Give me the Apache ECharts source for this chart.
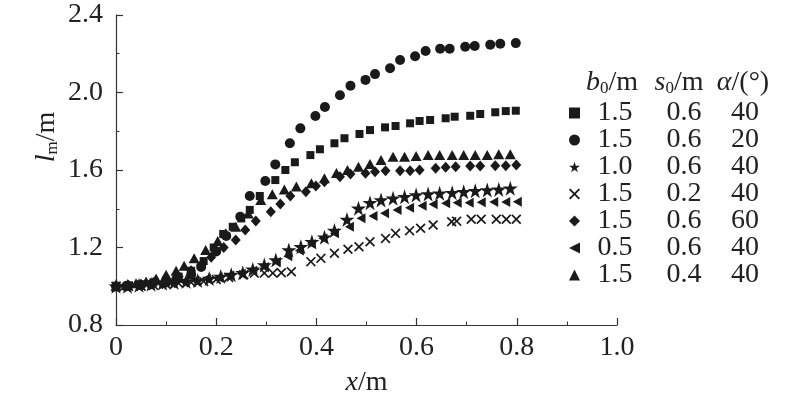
<!DOCTYPE html>
<html><head><meta charset="utf-8">
<script src="https://cdn.jsdelivr.net/npm/echarts@6/dist/echarts.min.js"></script>
<style>html,body{margin:0;padding:0;background:#fff}#c{width:800px;height:395px}</style>
</head><body><div id="c"></div>
<script>
// ---- tick labels ----
const xTickLabels = ['0', '0.2', '0.4', '0.6', '0.8', '1.0'];
const yTickLabels = ['0.8', '1.2', '1.6', '2.0', '2.4'];

// ---- legend table values ----
const seriesNames = ['sq', 'ci', 'st', 'xx', 'di', 'lt', 'tr'];
const b0Vals = ['1.5', '1.5', '1.0', '1.5', '1.5', '0.5', '1.5'];
const s0Vals = ['0.6', '0.6', '0.6', '0.2', '0.6', '0.6', '0.4'];
const alphaVals = ['40', '20', '40', '40', '60', '40', '40'];

// ---- series values (x/m, lm/m) ----
const xSquare = [0, 0.025, 0.05, 0.075, 0.10, 0.125, 0.15, 0.175, 0.195, 0.214, 0.233, 0.25, 0.267, 0.287, 0.318, 0.338, 0.357, 0.388, 0.407, 0.436, 0.456, 0.486, 0.507, 0.537, 0.558, 0.587, 0.606, 0.627, 0.658, 0.676, 0.707, 0.727, 0.757, 0.778, 0.798];
const ySquare = [1.0, 1.005, 1.01, 1.02, 1.03, 1.05, 1.08, 1.13, 1.20, 1.27, 1.307, 1.35, 1.394, 1.466, 1.548, 1.600, 1.640, 1.677, 1.707, 1.738, 1.764, 1.786, 1.806, 1.820, 1.827, 1.841, 1.853, 1.858, 1.867, 1.875, 1.880, 1.889, 1.898, 1.904, 1.906];

const xCircle = [0, 0.02, 0.05, 0.07, 0.10, 0.12, 0.15, 0.17, 0.20, 0.22, 0.248, 0.267, 0.298, 0.318, 0.347, 0.368, 0.398, 0.417, 0.447, 0.468, 0.498, 0.517, 0.547, 0.567, 0.597, 0.618, 0.647, 0.666, 0.697, 0.716, 0.747, 0.767, 0.798];
const yCircle = [1.0, 1.0, 1.005, 1.01, 1.02, 1.035, 1.06, 1.10, 1.18, 1.26, 1.359, 1.466, 1.543, 1.629, 1.738, 1.815, 1.879, 1.925, 1.986, 2.035, 2.065, 2.095, 2.125, 2.168, 2.187, 2.214, 2.226, 2.226, 2.236, 2.240, 2.247, 2.252, 2.255];

const xStar = [0, 0.023, 0.046, 0.07, 0.093, 0.116, 0.14, 0.163, 0.186, 0.209, 0.23, 0.253, 0.273, 0.296, 0.319, 0.345, 0.369, 0.391, 0.416, 0.436, 0.461, 0.484, 0.507, 0.529, 0.553, 0.576, 0.599, 0.623, 0.646, 0.671, 0.694, 0.717, 0.741, 0.764, 0.787];
const yStar = [1.0, 1.0, 1.005, 1.01, 1.015, 1.02, 1.025, 1.03, 1.04, 1.05, 1.06, 1.07, 1.087, 1.11, 1.135, 1.187, 1.204, 1.23, 1.253, 1.288, 1.344, 1.402, 1.431, 1.445, 1.454, 1.462, 1.471, 1.476, 1.48, 1.483, 1.488, 1.493, 1.497, 1.50, 1.506];

const xCross = [0, 0.025, 0.05, 0.075, 0.10, 0.125, 0.15, 0.175, 0.20, 0.225, 0.255, 0.276, 0.296, 0.313, 0.33, 0.35, 0.389, 0.409, 0.436, 0.463, 0.485, 0.507, 0.538, 0.558, 0.586, 0.608, 0.633, 0.670, 0.680, 0.709, 0.729, 0.759, 0.779, 0.799];
const yCross = [1.0, 1.0, 1.0, 1.005, 1.01, 1.015, 1.02, 1.025, 1.035, 1.045, 1.06, 1.068, 1.068, 1.068, 1.07, 1.075, 1.127, 1.144, 1.17, 1.191, 1.204, 1.23, 1.247, 1.273, 1.287, 1.299, 1.316, 1.333, 1.336, 1.346, 1.346, 1.346, 1.346, 1.346];

const xDiamond = [0, 0.025, 0.05, 0.075, 0.10, 0.125, 0.15, 0.17, 0.19, 0.215, 0.239, 0.258, 0.279, 0.309, 0.328, 0.348, 0.379, 0.399, 0.416, 0.447, 0.468, 0.498, 0.517, 0.538, 0.567, 0.587, 0.606, 0.638, 0.658, 0.678, 0.707, 0.727, 0.757, 0.778, 0.799];
const yDiamond = [1.0, 1.005, 1.01, 1.02, 1.035, 1.05, 1.08, 1.11, 1.15, 1.20, 1.239, 1.290, 1.337, 1.385, 1.425, 1.466, 1.488, 1.517, 1.54, 1.565, 1.579, 1.583, 1.591, 1.596, 1.596, 1.596, 1.600, 1.609, 1.614, 1.617, 1.621, 1.621, 1.622, 1.622, 1.626];

const xLeftTri = [0, 0.018, 0.04, 0.064, 0.087, 0.11, 0.134, 0.157, 0.18, 0.204, 0.227, 0.25, 0.273, 0.296, 0.32, 0.343, 0.366, 0.39, 0.413, 0.436, 0.466, 0.489, 0.513, 0.536, 0.561, 0.586, 0.611, 0.633, 0.658, 0.681, 0.705, 0.729, 0.754, 0.778, 0.801];
const yLeftTri = [1.0, 1.0, 1.005, 1.01, 1.015, 1.02, 1.025, 1.03, 1.04, 1.045, 1.055, 1.065, 1.08, 1.10, 1.125, 1.155, 1.185, 1.218, 1.247, 1.273, 1.307, 1.351, 1.363, 1.377, 1.394, 1.405, 1.416, 1.423, 1.428, 1.431, 1.431, 1.433, 1.435, 1.435, 1.436];

const xTriangle = [0, 0.02, 0.04, 0.06, 0.08, 0.10, 0.12, 0.136, 0.156, 0.179, 0.203, 0.219, 0.239, 0.264, 0.289, 0.312, 0.336, 0.36, 0.39, 0.416, 0.44, 0.462, 0.484, 0.507, 0.529, 0.553, 0.576, 0.599, 0.623, 0.646, 0.671, 0.694, 0.717, 0.741, 0.764, 0.787];
const yTriangle = [1.0, 1.005, 1.015, 1.025, 1.04, 1.06, 1.08, 1.106, 1.144, 1.187, 1.234, 1.273, 1.307, 1.375, 1.445, 1.475, 1.50, 1.515, 1.531, 1.557, 1.585, 1.600, 1.617, 1.631, 1.652, 1.669, 1.669, 1.672, 1.677, 1.677, 1.677, 1.677, 1.677, 1.677, 1.681, 1.681];

// ---- styling ----
const FONT = "'Liberation Serif', 'Times New Roman', Times, serif";
const INK = '#1a1a1a';
const TXT = '#222';
const STAR = 'path://M50,0 L61.2,34.5 L97.6,34.5 L68.2,55.9 L79.4,90.5 L50,69.1 L20.6,90.5 L31.8,55.9 L2.4,34.5 L38.8,34.5 Z';
const CROSS = 'path://M0,1.2 L1.2,0 L5,3.8 L8.8,0 L10,1.2 L6.2,5 L10,8.8 L8.8,10 L5,6.2 L1.2,10 L0,8.8 L3.8,5 Z';
const LEFTTRI = 'path://M0,5 L10,0 L10,10 Z';

function pairs(xs, ys) { return xs.map((x, i) => [x, ys[i]]); }

const seriesDefs = [
  { x: xSquare, y: ySquare, symbol: 'rect', size: 8 },
  { x: xCircle, y: yCircle, symbol: 'circle', size: 10 },
  { x: xStar, y: yStar, symbol: STAR, size: 15 },
  { x: xCross, y: yCross, symbol: CROSS, size: 10 },
  { x: xDiamond, y: yDiamond, symbol: 'diamond', size: [10, 11] },
  { x: xLeftTri, y: yLeftTri, symbol: LEFTTRI, size: [9, 10] },
  { x: xTriangle, y: yTriangle, symbol: 'triangle', size: [11, 10] }
];

const series = seriesDefs.map((d, i) => ({
  name: seriesNames[i],
  type: 'scatter',
  data: pairs(d.x, d.y),
  symbol: d.symbol,
  symbolSize: d.size,
  itemStyle: { color: INK, opacity: 1 },
  emphasis: { disabled: true },
  animation: false
}));

const chart = echarts.init(document.getElementById('c'), null, { renderer: 'canvas' });

const richNum = {
  a: { width: 60, align: 'center', fontSize: 28, fontFamily: FONT, color: TXT },
  b: { width: 78, align: 'center', fontSize: 28, fontFamily: FONT, color: TXT },
  c: { width: 44, align: 'center', fontSize: 28, fontFamily: FONT, color: TXT }
};

function headerRich() {
  return {
    i: { fontStyle: 'italic', fontSize: 28, fontFamily: FONT, fill: TXT, lineHeight: 28 },
    n: { fontSize: 28, fontFamily: FONT, fill: TXT, lineHeight: 28 },
    s: { fontSize: 17, fontFamily: FONT, fill: TXT, lineHeight: 8, verticalAlign: 'bottom' }
  };
}

chart.setOption({
  animation: false,
  backgroundColor: '#fff',
  grid: { left: 116, right: 183, top: 15, bottom: 70, containLabel: false, outerBoundsMode: 'none' },
  xAxis: {
    type: 'value', min: 0, max: 1.0, interval: 0.2,
    axisLine: { show: true, onZero: false, lineStyle: { color: '#333', width: 1.2 } },
    axisTick: { show: true, inside: true, length: 7, lineStyle: { color: '#333', width: 1.2 } },
    minorTick: { show: true, splitNumber: 2, length: 3.5, lineStyle: { color: '#333', width: 1 } },
    splitLine: { show: false },
    axisLabel: {
      margin: 9, fontSize: 28, fontFamily: FONT, color: TXT,
      formatter: v => xTickLabels[Math.round(v / 0.2)]
    },
    name: '{i|x}{n|/m}', nameLocation: 'middle', nameGap: 44,
    nameTextStyle: {
      rich: {
        i: { fontStyle: 'italic', fontSize: 28, fontFamily: FONT, color: TXT },
        n: { fontSize: 28, fontFamily: FONT, color: TXT }
      }
    }
  },
  yAxis: {
    type: 'value', min: 0.8, max: 2.4, interval: 0.4,
    axisLine: { show: true, onZero: false, lineStyle: { color: '#333', width: 1.2 } },
    axisTick: { show: true, inside: true, length: 7, lineStyle: { color: '#333', width: 1.2 } },
    minorTick: { show: true, splitNumber: 2, length: 3.5, lineStyle: { color: '#333', width: 1 } },
    splitLine: { show: false },
    axisLabel: {
      margin: 13, fontSize: 28, fontFamily: FONT, color: TXT,
      formatter: v => yTickLabels[Math.round((v - 0.8) / 0.4)]
    }
  },
  legend: {
    orient: 'vertical', left: 564, top: 94, padding: 5,
    itemWidth: 11, itemHeight: 11, itemGap: -1,
    selectedMode: false,
    data: seriesNames,
    textStyle: { fontSize: 28, fontFamily: FONT, color: TXT, rich: richNum },
    formatter: name => {
      const i = seriesNames.indexOf(name);
      return '{a|' + b0Vals[i] + '}{b|' + s0Vals[i] + '}{c|' + alphaVals[i] + '}';
    }
  },
  graphic: [
    { type: 'text', x: 47, y: 137, rotation: Math.PI / 2,
      style: { text: '{i|l}{s|m}{n|/m}', rich: headerRich(), align: 'center', verticalAlign: 'middle', fill: TXT, font: '28px ' + FONT } },
    { type: 'text', x: 612, y: 83,
      style: { text: '{i|b}{s|0}{n|/m}', rich: headerRich(), align: 'center', verticalAlign: 'middle', fill: TXT, font: '28px ' + FONT } },
    { type: 'text', x: 679, y: 83,
      style: { text: '{i|s}{s|0}{n|/m}', rich: headerRich(), align: 'center', verticalAlign: 'middle', fill: TXT, font: '28px ' + FONT } },
    { type: 'text', x: 743, y: 83,
      style: { text: '{i|α}{n|/(°)}', rich: headerRich(), align: 'center', verticalAlign: 'middle', fill: TXT, font: '28px ' + FONT } }
  ],
  series: series
});
</script>
</body></html>
